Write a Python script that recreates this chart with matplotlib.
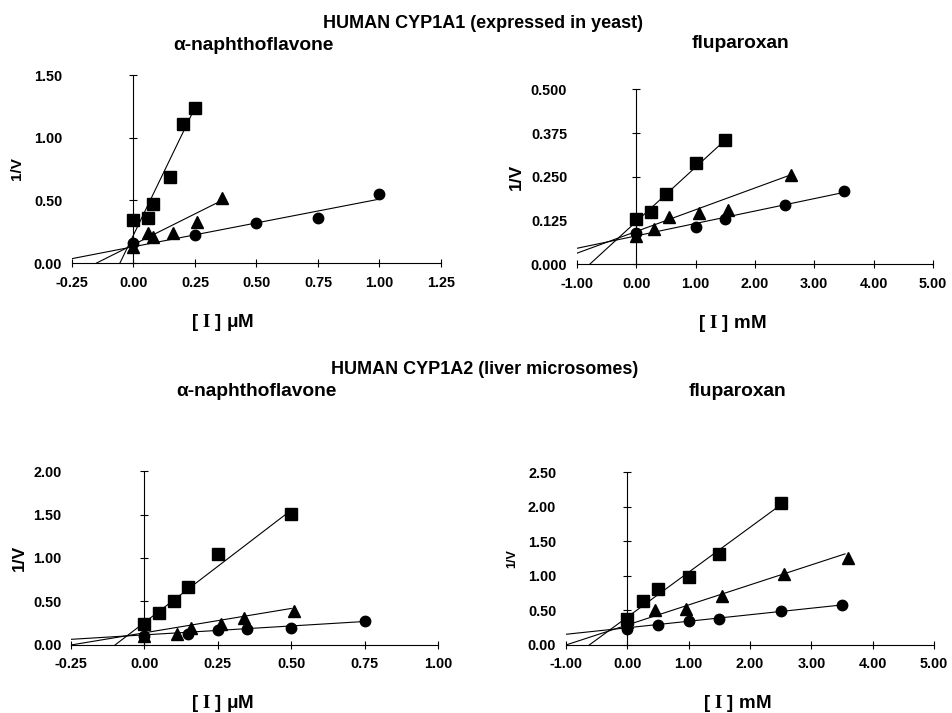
import numpy as np
import matplotlib
matplotlib.use("Agg")
import matplotlib.pyplot as plt

plt.rcParams['font.family'] = ['Liberation Sans', 'DejaVu Sans']
plt.rcParams['font.weight'] = 'bold'
plt.rcParams['mathtext.fontset'] = 'stix'

# ---- data ----
# CYP1A1 alpha-naphthoflavone (uM)
a1_sq_x = [0.0, 0.06, 0.08, 0.15, 0.20, 0.25]
a1_sq_y = [0.34, 0.36, 0.47, 0.69, 1.11, 1.24]
a1_tr_x = [0.0, 0.06, 0.08, 0.16, 0.26, 0.36]
a1_tr_y = [0.13, 0.24, 0.21, 0.24, 0.33, 0.52]
a1_ci_x = [0.0, 0.25, 0.50, 0.75, 1.00]
a1_ci_y = [0.16, 0.22, 0.32, 0.36, 0.55]
a1_fits = [((-0.055, 0.0), (0.245, 1.22)),
           ((-0.15, 0.0), (0.36, 0.50)),
           ((-0.25, 0.035), (1.00, 0.51))]

# CYP1A1 fluparoxan (mM)
f1_sq_x = [0.0, 0.25, 0.5, 1.0, 1.5]
f1_sq_y = [0.13, 0.15, 0.20, 0.29, 0.355]
f1_tr_x = [0.0, 0.3, 0.55, 1.05, 1.55, 2.6]
f1_tr_y = [0.08, 0.10, 0.135, 0.145, 0.155, 0.255]
f1_ci_x = [0.0, 1.0, 1.5, 2.5, 3.5]
f1_ci_y = [0.09, 0.105, 0.13, 0.17, 0.21]
f1_fits = [((-0.78, 0.0), (1.5, 0.355)),
           ((-1.0, 0.031), (2.6, 0.255)),
           ((-1.0, 0.045), (3.5, 0.205))]

# CYP1A2 alpha-naphthoflavone (uM)
a2_sq_x = [0.0, 0.05, 0.10, 0.15, 0.25, 0.50]
a2_sq_y = [0.24, 0.37, 0.51, 0.67, 1.05, 1.51]
a2_tr_x = [0.0, 0.11, 0.16, 0.26, 0.34, 0.51]
a2_tr_y = [0.10, 0.13, 0.20, 0.24, 0.31, 0.39]
a2_ci_x = [0.0, 0.15, 0.25, 0.35, 0.50, 0.75]
a2_ci_y = [0.10, 0.13, 0.17, 0.18, 0.19, 0.27]
a2_fits = [((-0.10, 0.0), (0.50, 1.55)),
           ((-0.25, 0.0), (0.50, 0.42)),
           ((-0.25, 0.065), (0.75, 0.27))]

# CYP1A2 fluparoxan (mM)
f2_sq_x = [0.0, 0.25, 0.5, 1.0, 1.5, 2.5]
f2_sq_y = [0.37, 0.64, 0.81, 0.98, 1.32, 2.05]
f2_tr_x = [0.0, 0.45, 0.95, 1.55, 2.55, 3.6]
f2_tr_y = [0.33, 0.51, 0.52, 0.71, 1.03, 1.26]
f2_ci_x = [0.0, 0.5, 1.0, 1.5, 2.5, 3.5]
f2_ci_y = [0.23, 0.29, 0.35, 0.37, 0.49, 0.58]
f2_fits = [((-0.62, 0.0), (2.5, 2.03)),
           ((-1.0, 0.0), (3.55, 1.32)),
           ((-1.0, 0.155), (3.5, 0.58))]

um_xticks = [-0.25, 0.0, 0.25, 0.50, 0.75, 1.00, 1.25]
um_xticks2 = [-0.25, 0.0, 0.25, 0.50, 0.75, 1.00]
mm_xticks = [-1.0, 0.0, 1.0, 2.0, 3.0, 4.0, 5.0]

panels = [
    dict(pos=[0.0756, 0.6311, 0.3876, 0.2637],
         sq=(a1_sq_x, a1_sq_y), tr=(a1_tr_x, a1_tr_y), ci=(a1_ci_x, a1_ci_y),
         fits=a1_fits, xt=um_xticks, yt=[0, 0.5, 1.0, 1.5], yfmt="{:.2f}",
         xlab="[ $\\mathbf{I}$ ] μM", ylsize=11, ylx=-0.149, xlx=0.407),
    dict(pos=[0.606, 0.6297, 0.374, 0.245],
         sq=(f1_sq_x, f1_sq_y), tr=(f1_tr_x, f1_tr_y), ci=(f1_ci_x, f1_ci_y),
         fits=f1_fits, xt=mm_xticks, yt=[0, 0.125, 0.25, 0.375, 0.5], yfmt="{:.3f}",
         xlab="[ $\\mathbf{I}$ ] mM", ylsize=12.5, ylx=-0.171, xlx=0.435),
    dict(pos=[0.0746, 0.0954, 0.3855, 0.244],
         sq=(a2_sq_x, a2_sq_y), tr=(a2_tr_x, a2_tr_y), ci=(a2_ci_x, a2_ci_y),
         fits=a2_fits, xt=um_xticks2, yt=[0, 0.5, 1.0, 1.5, 2.0], yfmt="{:.2f}",
         xlab="[ $\\mathbf{I}$ ] μM", ylsize=12.5, ylx=-0.142, xlx=0.414),
    dict(pos=[0.5945, 0.0954, 0.3866, 0.242],
         sq=(f2_sq_x, f2_sq_y), tr=(f2_tr_x, f2_tr_y), ci=(f2_ci_x, f2_ci_y),
         fits=f2_fits, xt=mm_xticks, yt=[0, 0.5, 1.0, 1.5, 2.0, 2.5], yfmt="{:.2f}",
         xlab="[ $\\mathbf{I}$ ] mM", ylsize=9, ylx=-0.147, xlx=0.466),
]

fig = plt.figure(figsize=(9.52, 7.13), dpi=100)

for p in panels:
    ax = fig.add_axes(p['pos'])
    xt, yt = p['xt'], p['yt']
    ax.set_xlim(xt[0], xt[-1])
    ax.set_ylim(0, yt[-1])
    for s in ['top', 'right', 'left']:
        ax.spines[s].set_visible(False)
    ax.spines['bottom'].set_linewidth(0.8)
    ax.set_xticks(xt)
    ax.set_xticklabels(["{:.2f}".format(v) for v in xt])
    ax.set_yticks(yt)
    ax.set_yticklabels([p['yfmt'].format(v) for v in yt])
    ax.tick_params(axis='x', direction='inout', length=6, width=0.8, labelsize=10.4, pad=6)
    ax.tick_params(axis='y', length=0, labelsize=10.4, pad=7)
    for lab in ax.get_xticklabels() + ax.get_yticklabels():
        lab.set_fontweight('bold')
    # y axis drawn at x = 0 with crossing tick marks
    ax.axvline(0, color='k', lw=0.8)
    ax.plot(np.zeros(len(yt)), yt, ls='', marker='_', ms=6, mew=0.8, color='k', clip_on=False)

    for (x0, y0), (x1, y1) in p['fits']:
        ax.plot([x0, x1], [y0, y1], color='k', lw=0.8)
    ax.plot(*p['sq'], ls='', marker='s', ms=8, color='k', clip_on=False)
    ax.plot(*p['tr'], ls='', marker='^', ms=9, color='k', clip_on=False)
    ax.plot(*p['ci'], ls='', marker='o', ms=7.5, color='k', clip_on=False)

    ax.text(p['ylx'], 0.5, "1/V", transform=ax.transAxes, rotation=90, ha='center',
            va='center', fontsize=p['ylsize'], fontweight='bold')
    h_px = p['pos'][3] * 713
    ax.text(p['xlx'], -59.0 / h_px, p['xlab'], transform=ax.transAxes, ha='center',
            va='center', fontsize=13.5, fontweight='bold')

fig.text(0.507, 1 - 23 / 713, "HUMAN CYP1A1 (expressed in yeast)", ha='center', va='center',
         fontsize=13, fontweight='bold')
fig.text(0.266, 1 - 45 / 713, "α-naphthoflavone", ha='center', va='center', fontsize=13.8, fontweight='bold')
fig.text(0.778, 1 - 44 / 713, "fluparoxan", ha='center', va='center', fontsize=13.8, fontweight='bold')
fig.text(0.509, 1 - 369 / 713, "HUMAN CYP1A2 (liver microsomes)", ha='center', va='center',
         fontsize=13, fontweight='bold')
fig.text(0.269, 1 - 392 / 713, "α-naphthoflavone", ha='center', va='center', fontsize=13.8, fontweight='bold')
fig.text(0.775, 1 - 392 / 713, "fluparoxan", ha='center', va='center', fontsize=13.8, fontweight='bold')

fig.savefig("out.png", dpi=100)
